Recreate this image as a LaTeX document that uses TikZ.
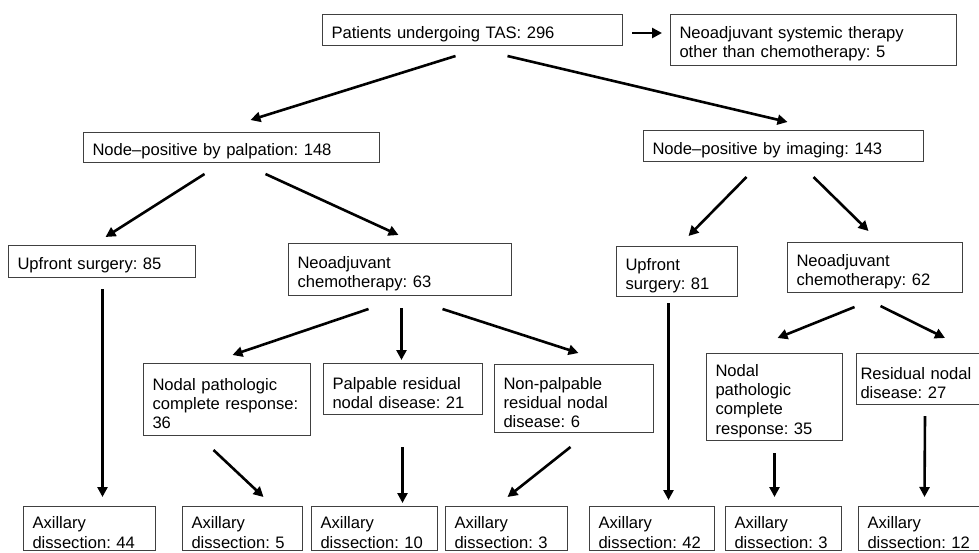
\documentclass[tikz,border=0pt]{standalone}
\usepackage{fontspec}
\setmainfont{Liberation Sans}
\usetikzlibrary{arrows.meta}
\usetikzlibrary{calc}

\begin{document}
\begin{tikzpicture}[x=1pt,y=-1pt,
	box/.style 2 args={draw=black!75,line width=1pt,anchor=north west,align=left,inner xsep=9pt,inner ysep=0pt,
		text width=#1,minimum height=#2,font=\fontsize{16.6}{19.3}\selectfont\frenchspacing,
		execute at begin node={\rule{0pt}{20pt}}},
	flow/.style={line width=2.6pt,-{Triangle[length=10pt,width=10pt]}}]
	\clip (0,0) rectangle (979,552);
	\node[box={282pt}{31pt}] (tas) at (322,14) {Patients undergoing TAS: 296};
	\node[box={268pt}{51pt}] (other) at (670,14) {Neoadjuvant systemic therapy\\other than chemotherapy: 5};
	\node[box={278pt}{30pt}] (palp) at (83,132) {Node--positive by palpation: 148};
	\node[box={262pt}{31pt}] (imag) at (643,130) {Node--positive by imaging: 143};
	\node[box={169pt}{32pt}] (upl) at (8,245) {Upfront surgery: 85};
	\node[box={205pt}{52pt}] (chl) at (288,243) {Neoadjuvant\\chemotherapy: 63};
	\node[box={103pt}{50pt}] (upr) at (616,246) {Upfront\\surgery: 81};
	\node[box={157pt}{50pt}] (chr) at (787,242) {Neoadjuvant\\chemotherapy: 62};
	\node[box={149pt}{72pt}] (pcrl) at (143,363) {Nodal pathologic\\complete response:\\36};
	\node[box={141pt}{51pt}] (palres) at (323,363) {Palpable residual\\nodal disease: 21};
	\node[box={141pt}{68pt}] (nonpal) at (494,364) {Non-palpable\\residual nodal\\disease: 6};
	\node[box={118pt}{87pt}] (pcrr) at (706,353) {Nodal\\pathologic\\complete\\response: 35};
	\node[box={118pt}{51pt},inner xsep=4pt] (resr) at (856,353) {Residual nodal\\disease: 27};
	\node[box={114pt}{44pt}] (a1) at (23,506) {Axillary\\dissection: 44};
	\node[box={102pt}{44pt}] (a2) at (182,506) {Axillary\\dissection: 5};
	\node[box={108pt}{44pt}] (a3) at (311,506) {Axillary\\dissection: 10};
	\node[box={104pt}{44pt}] (a4) at (445,506) {Axillary\\dissection: 3};
	\node[box={107pt}{44pt}] (a5) at (589,506) {Axillary\\dissection: 42};
	\node[box={98pt}{44pt}] (a6) at (725,506) {Axillary\\dissection: 3};
	\node[box={107pt}{44pt}] (a7) at (858,506) {Axillary\\dissection: 12};
	\draw[flow] ($(tas.east)+(9,3)$) -- ($(other.west)+(-8,-7)$);
	\draw[flow] ($(tas.south)+(-17,10)$) -- ($(palp.north)+(19,-12)$);
	\draw[flow] ($(tas.south)+(35,10)$) -- ($(imag.north)+(4,-8)$);
	\draw[flow] ($(palp.south)+(-27,11)$) -- ($(upl.north)+(3.5,-8)$);
	\draw[flow] ($(palp.south)+(34,11)$) -- ($(chl.north)+(-1.5,-8)$);
	\draw[flow] ($(imag.south)+(-37,15)$) -- ($(upr.north)+(11.5,-10)$);
	\draw[flow] ($(imag.south)+(30,15)$) -- ($(chr.north)+(-6.5,-11)$);
	\draw[flow] ($(upl.south)+(0.5,11)$) -- ($(a1.north)+(13,-9)$);
	\draw[flow] ($(chl.south)+(-31.5,13)$) -- ($(pcrl.north)+(5.5,-8)$);
	\draw[flow] ($(chl.south)+(1.5,12)$) -- ($(palres.north)+(-1.5,-3)$);
	\draw[flow] ($(chl.south)+(42.5,13)$) -- ($(nonpal.north)+(4.5,-11)$);
	\draw[flow] ($(upr.south)+(-8.5,6)$) -- ($(a5.north)+(16.5,-6)$);
	\draw[flow] ($(chr.south)+(-20.5,14)$) -- ($(pcrr.north)+(3,-15)$);
	\draw[flow] ($(chr.south)+(5.5,13)$) -- ($(resr.north)+(25.5,-15)$);
	\draw[flow] ($(pcrl.south)+(-13.5,14)$) -- ($(a2.north)+(21,-9)$);
	\draw[flow] ($(palres.south)+(-0.5,32)$) -- ($(a3.north)+(28,-3)$);
	\draw[flow] ($(nonpal.south)+(-3.5,14)$) -- ($(a4.north)+(1,-9)$);
	\draw[flow] ($(pcrr.south)+(0,12)$) -- ($(a6.north)+(-9,-9)$);
	\draw[flow] ($(resr.south)+(5.5,11)$) -- ($(a7.north)+(3.5,-9)$);
\end{tikzpicture}
\end{document}
